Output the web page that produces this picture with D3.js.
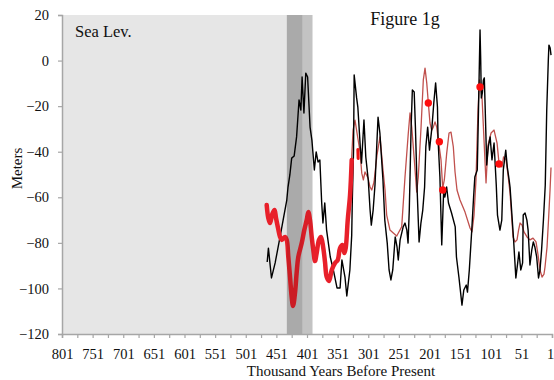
<!DOCTYPE html>
<html><head><meta charset="utf-8">
<script src="https://cdn.jsdelivr.net/npm/d3@7"></script>
<style>
html,body{margin:0;padding:0;background:#fff;}
svg text{font-family:"Liberation Serif","Times New Roman",serif !important;fill:#111;}
</style></head>
<body><svg id="c" width="554" height="380"></svg>
<script>
// ---- data (ky BP, meters) ----
const blackSeries = [[466,-88.4],[464,-82.3],[459,-95.4],[453,-88.8],[450,-84.5],[445,-77.4],[440,-70.0],[434,-61.2],[432,-55.5],[429,-50.2],[426,-42.8],[422,-41.9],[418,-33.5],[414,-17.3],[411,-21.7],[409,-7.2],[406,-23.0],[403,-5.5],[400,-7.2],[396,-29.2],[393,-34.9],[389,-48.0],[386,-40.1],[383,-44.5],[380,-43.6],[377,-62.5],[375,-71.3],[372,-62.5],[369,-74.4],[363,-86.2],[358,-91.9],[352,-99.8],[347,-99.8],[344,-87.5],[339,-95.0],[336,-103.3],[331,-91.9],[328,-76.6],[327,-61.2],[325,-39.3],[324,-6.3],[320,-16.4],[318,-20.4],[314,-37.9],[312,-45.0],[308,-26.1],[305,-42.3],[301,-52.4],[298,-65.6],[296,-72.2],[293,-65.6],[290,-54.6],[285,-24.8],[282,-31.8],[277,-52.4],[274,-70.0],[270,-80.1],[267,-91.9],[264,-96.3],[261,-91.9],[257,-77.4],[254,-81.8],[252,-87.5],[249,-78.7],[244,-73.0],[241,-71.3],[238,-74.4],[236,-80.1],[234,-65.6],[231,-29.2],[229,-12.9],[226,-13.8],[224,-29.2],[221,-58.1],[218,-79.6],[215,-71.3],[212,-65.6],[209,-55.5],[207,-37.9],[204,-29.2],[201,-39.3],[197,-29.2],[194,-18.6],[191,-9.8],[188,-20.4],[187,-34.9],[184,-51.1],[181,-80.9],[178,-58.1],[176,-59.9],[173,-55.5],[170,-62.5],[165,-66.9],[159,-73.0],[157,-86.2],[153,-95.0],[148,-107.3],[145,-100.7],[141,-98.5],[139,-101.6],[136,-91.9],[132,-74.4],[129,-59.9],[127,-51.1],[123,-48.0],[121,-21.7],[120,-7.2],[118.5,13.4],[117.4,0.3],[116.4,-16.4],[114.7,-14.2],[113,-8.5],[111.5,-7.6],[110,-21.7],[107.6,-45.8],[105,-37.9],[102,-33.5],[99,-43.6],[95.6,-36.2],[92,-54.6],[90,-67.8],[86,-74.4],[83,-70.0],[80.5,-48.0],[76.5,-39.3],[74,-46.7],[71,-52.4],[69.5,-55.5],[64,-77.4],[60,-95.4],[57,-88.8],[55,-84.0],[52,-91.9],[49,-88.8],[48,-67.8],[45,-66.9],[42,-70.0],[40,-74.4],[37,-89.7],[34,-83.1],[31.5,-79.6],[29,-81.8],[26,-86.2],[23,-95.4],[20.6,-91.9],[18,-83.1],[15,-70.0],[12,-54.6],[9.6,-21.7],[7,0.3],[6,6.8],[4,5.5],[2.6,2.4]];

const redThick = [[466.8,-63.4],[464.2,-69.1],[461.4,-71.3],[457.6,-67.3],[454,-65.6],[451.6,-69.1],[448.3,-73.5],[445,-77.4],[442.3,-78.7],[436.9,-77.4],[434.1,-78.7],[431.5,-86.2],[428.7,-95.0],[426,-103.8],[423.8,-107.7],[420.6,-102.0],[417.8,-92.8],[415.2,-86.2],[409.6,-80.1],[405.4,-74.4],[401.5,-70.0],[398.8,-66.5],[396.1,-70.0],[393.3,-77.4],[390.7,-83.1],[387.9,-88.0],[385.2,-84.5],[381.4,-78.7],[378.1,-77.4],[374.4,-82.3],[371.6,-88.4],[368.8,-95.0],[365,-96.7],[360.6,-91.9],[355.2,-88.8],[350.8,-87.5],[347.1,-82.3],[343.3,-80.9],[340.1,-84.5],[337.8,-82.3],[334.5,-70.0],[330.7,-59.0],[328,-43.6]];
const redThickShort = [[318,-39],[317.5,-43]];

const redThin = [[329.1,-48.0],[325.8,-30.5],[322.6,-26.1],[319.3,-31.8],[314.4,-40.1],[311.6,-49.4],[309,-52.4],[306.3,-48.9],[301.4,-51.5],[298.1,-55.5],[295.3,-56.8],[291.6,-53.3],[286.7,-41.4],[281.8,-33.5],[276.9,-48.0],[273.6,-56.8],[270.9,-67.8],[265.5,-74.4],[260.1,-75.7],[254.5,-77.0],[251.9,-75.7],[246.4,-73.0],[241,-51.1],[235.6,-31.8],[232.8,-23.0],[230,-29.2],[225.8,-43.6],[221.9,-57.7],[219.3,-51.1],[214.8,-29.2],[211.1,-8.5],[208.3,-3.3],[205.5,-9.8],[202.9,-18.6],[200.2,-27.4],[197.4,-30.5],[194.8,-29.2],[192,-26.9],[189.2,-29.2],[186.6,-34.9],[182.2,-43.6],[179.4,-55.9],[176.8,-52.4],[172.9,-40.6],[169.1,-31.8],[165.9,-31.4],[162.1,-37.9],[159.3,-48.9],[156.1,-56.8],[151.2,-61.2],[143,-66.5],[134.8,-73.5],[131.6,-75.2],[128.3,-67.8],[125.1,-52.4],[121.8,-21.7],[119.3,-8.5],[115.2,-16.4],[112,-34.9],[108.7,-53.7],[105.5,-37.1],[100.5,-31.8],[95.6,-30.5],[90.7,-36.2],[87.5,-45.0],[82.6,-46.7],[80.1,-42.3],[76,-43.6],[72.8,-50.2],[69.5,-58.1],[64.6,-77.4],[61.4,-79.6],[58.1,-78.7],[55.6,-74.4],[53.2,-71.3],[49.9,-72.2],[46.7,-75.2],[41.8,-77.4],[36.9,-78.7],[32,-77.9],[27.1,-79.6],[23.8,-85.3],[20.6,-91.9],[17.3,-95.0],[14.1,-93.7],[12.4,-90.6],[9.1,-81.8],[6.7,-70.0],[4.2,-56.8],[2.6,-46.9]];

const redDots = [[202.9,-18.6],[184.9,-35.6],[179.4,-56.8],[118.5,-11.6],[87.5,-45.4]];

const shadeLight = [801,434];
const shadeDark1 = [434,408];
const shadeDark2 = [408,392];
const xTickValues = d3.range(801, 0, -25);
const yTickValues = [-120,-100,-80,-60,-40,-20,0,20];
const chartTitle = "Figure 1g";
const panelLabel = "Sea Lev.";
const xTitle = "Thousand Years Before Present";
const yTitle = "Meters";

// ---- layout ----
const svg = d3.select("#c");
const L = 62, R = 552, T = 15, B = 334;
const x = d3.scaleLinear().domain([801,1]).range([L,R]);
const y = d3.scaleLinear().domain([-120,20]).range([B,T]);

function band(d, fill, op){
  return svg.append("rect").attr("x", x(d[0])).attr("width", x(d[1]) - x(d[0]))
    .attr("y", T).attr("height", B - T).attr("fill", fill).attr("fill-opacity", op);
}
band(shadeLight, "#e6e6e6", 1);
band(shadeDark1, "#c2c2c2", 1);
band(shadeDark2, "#d0d0d0", 1);

const line = d3.line().x(d => x(d[0])).y(d => y(d[1])).curve(d3.curveLinear);

svg.append("path").datum(redThin).attr("d", line).attr("fill","none")
  .attr("stroke","#c0504d").attr("stroke-width",1.3).attr("stroke-linejoin","round");
svg.append("path").datum(blackSeries).attr("d", line).attr("fill","none")
  .attr("stroke","#000").attr("stroke-width",1.4).attr("stroke-linejoin","round");
svg.append("path").datum(redThick).attr("d", d3.line().x(d=>x(d[0])).y(d=>y(d[1])).curve(d3.curveCatmullRom))
  .attr("fill","none").attr("stroke","#e8202a").attr("stroke-width",4.5)
  .attr("stroke-linejoin","round").attr("stroke-linecap","round");
svg.append("path").datum(redThickShort).attr("d", line).attr("fill","none")
  .attr("stroke","#ee1111").attr("stroke-width",3).attr("stroke-linecap","round");
svg.selectAll("circle.dot").data(redDots).join("circle").attr("class","dot")
  .attr("cx", d => x(d[0])).attr("cy", d => y(d[1])).attr("r", 3.7).attr("fill","#ff0d0d");

band(shadeDark1, "#000", 0.12);
band(shadeDark2, "#000", 0.06);

// axes
const axCol = "#a6a6a6";
const gy = svg.append("g").attr("transform", `translate(${L},0)`)
  .call(d3.axisLeft(y).tickValues(yTickValues).tickSize(4).tickPadding(9).tickFormat(d3.format("d")));
const gx = svg.append("g").attr("transform", `translate(0,${B})`)
  .call(d3.axisBottom(x).tickValues(xTickValues).tickSize(4).tickPadding(11)
    .tickFormat(d => ((801 - d) % 50 === 0) ? String(d) : ""));
[gy, gx].forEach(g => {
  g.attr("font-family", null);
  g.select(".domain").attr("stroke", axCol).attr("stroke-width", 1.5);
  g.selectAll(".tick line").attr("stroke", axCol).attr("stroke-width", 1.2);
  g.selectAll("text").attr("font-size", 14.5).attr("fill", "#111");
});
gx.selectAll(".tick text").filter(d => d === 1).attr("dx", -2);

svg.append("text").attr("x", 405).attr("y", 25).attr("text-anchor","middle")
  .attr("font-size", 18).text(chartTitle);
svg.append("text").attr("x", 75).attr("y", 36.5).attr("font-size", 16.5).text(panelLabel);
svg.append("text").attr("x", 341).attr("y", 376).attr("text-anchor","middle")
  .attr("font-size", 15).text(xTitle);
svg.append("text").attr("transform","translate(21.5,168.5) rotate(-90)").attr("text-anchor","middle")
  .attr("font-size", 15).text(yTitle);
</script></body></html>
